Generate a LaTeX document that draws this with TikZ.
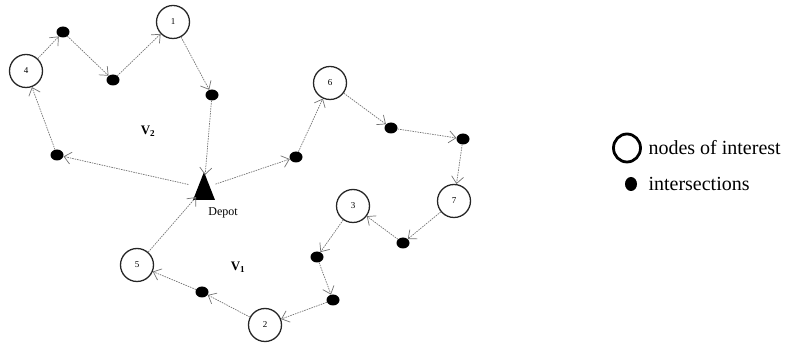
\documentclass[tikz,border=0pt]{standalone}
\usepackage{fontspec}
\setmainfont{Liberation Serif}
\usetikzlibrary{arrows.meta,shapes.geometric}
\begin{document}
\begin{tikzpicture}[x=1pt,y=-1pt,
  poi/.style={circle,draw=black!85,line width=1.3pt,minimum size=33pt,inner sep=0pt,font=\fontsize{9}{9}\selectfont},
  isect/.style={ellipse,fill=black,minimum width=13pt,minimum height=11pt,inner sep=0pt},
  route/.style={draw=black!55,line width=0.7pt,dash pattern=on 1.5pt off 1pt,-{Straight Barb[length=7pt,width=12pt,line width=0.7pt]}}
]
\useasboundingbox (0,0) rectangle (796,344);
% nodes of interest
\node[poi] (n1) at (173,22) {1};
\node[poi] (n4) at (26,71) {4};
\node[poi] (n6) at (330,83) {6};
\node[poi] (n3) at (353,206) {3};
\node[poi] (n7) at (454,201) {7};
\node[poi] (n5) at (137,265) {5};
\node[poi] (n2) at (265,325) {2};
% intersections
\node[isect] (a) at (63,32) {};
\node[isect] (b) at (113,80) {};
\node[isect] (c) at (212,95) {};
\node[isect] (d) at (57,155) {};
\node[isect] (e) at (296,157) {};
\node[isect] (f) at (391,128) {};
\node[isect] (g) at (463,139) {};
\node[isect] (h) at (403,243) {};
\node[isect] (i) at (317,257) {};
\node[isect] (j) at (333,300) {};
\node[isect] (k) at (202,292) {};
% depot
\path[fill=black] (193,200) -- (204,172) -- (215,200) -- cycle;
\coordinate (dep) at (204,188);
\node[font=\fontsize{12}{12}\selectfont] (deplbl) at (223,213) {Depot};
% region labels
\node[font=\bfseries\fontsize{13}{13}\selectfont] (v2) at (148,131) {V\textsubscript{2}};
\node[font=\bfseries\fontsize{13}{13}\selectfont] (v1) at (238,267) {V\textsubscript{1}};
% routes
\draw[route] (n4) -- (a);
\draw[route] (a) -- (b);
\draw[route] (b) -- (n1);
\draw[route] (n1) -- (c);
\draw[route,shorten >=13pt] (c) -- (dep);
\draw[route,shorten <=16pt] (dep) -- (d);
\draw[route] (d) -- (n4);
\draw[route,shorten <=12pt] (dep) -- (e);
\draw[route] (e) -- (n6);
\draw[route] (n6) -- (f);
\draw[route] (f) -- (g);
\draw[route] (g) -- (n7);
\draw[route] (n7) -- (h);
\draw[route] (h) -- (n3);
\draw[route] (n3) -- (i);
\draw[route] (i) -- (j);
\draw[route] (j) -- (n2);
\draw[route] (n2) -- (k);
\draw[route] (k) -- (n5);
\draw[route,shorten >=12pt] (n5) -- (dep);
% legend
\node[ellipse,draw=black,line width=2.8pt,minimum width=27pt,minimum height=28pt,inner sep=0pt] (lc) at (627,148) {};
\node[anchor=west,font=\fontsize{20}{20}\selectfont] (lt1) at (645,148) {nodes of interest};
\node[ellipse,fill=black,minimum width=12pt,minimum height=14pt,inner sep=0pt] (ld) at (631,184) {};
\node[anchor=west,font=\fontsize{20}{20}\selectfont] (lt2) at (645,184) {intersections};
\end{tikzpicture}
\end{document}
